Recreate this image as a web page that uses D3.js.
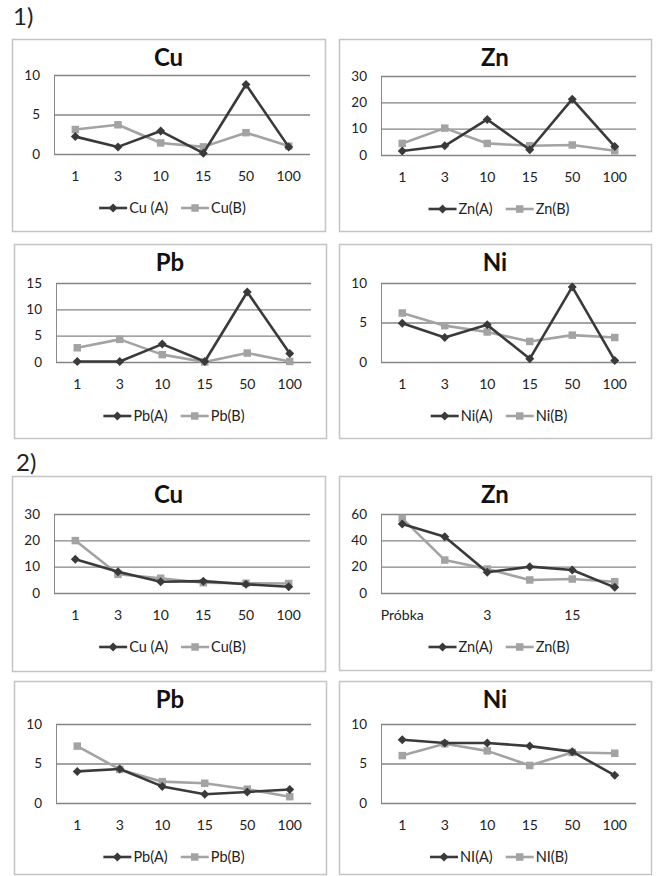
<!DOCTYPE html>
<html>
<head>
<meta charset="utf-8">
<script src="https://cdn.jsdelivr.net/npm/d3@7"></script>
<style>
  body { margin: 0; background: #fff; }
  svg { display: block; font-family: Lato, "Open Sans", sans-serif; }
</style>
</head>
<body>
<div id="chart"></div>
<script>
// sample categories (x axis)
var categories    = ["1", "3", "10", "15", "50", "100"];
var categoriesZn2 = ["Próbka", "1", "3", "10", "15", "50"];

// y tick labels
var ticks10 = [0, 5, 10];
var ticks15 = [0, 5, 10, 15];
var ticks30 = [0, 10, 20, 30];
var ticks60 = [0, 20, 40, 60];

// 1) values
var cu1A = [2.2, 0.9, 2.9, 0.1, 8.8, 0.9];
var cu1B = [3.1, 3.7, 1.4, 0.9, 2.7, 1.0];
var zn1A = [1.5, 3.5, 13.5, 2.0, 21.2, 3.2];
var zn1B = [4.4, 10.2, 4.4, 3.5, 3.8, 1.6];
var pb1A = [0.1, 0.1, 3.4, 0.1, 13.3, 1.6];
var pb1B = [2.7, 4.3, 1.4, 0.0, 1.7, 0.1];
var ni1A = [4.9, 3.1, 4.7, 0.4, 9.5, 0.2];
var ni1B = [6.2, 4.6, 3.8, 2.6, 3.4, 3.1];

// 2) values
var cu2A = [12.8, 8.1, 4.3, 4.5, 3.3, 2.4];
var cu2B = [19.9, 7.1, 5.6, 3.9, 3.7, 3.6];
var zn2A = [52.4, 42.8, 15.7, 20.0, 17.5, 4.3];
var zn2B = [56.7, 25.0, 18.2, 9.9, 10.6, 8.6];
var pb2A = [4.0, 4.3, 2.1, 1.1, 1.4, 1.7];
var pb2B = [7.2, 4.25, 2.7, 2.5, 1.75, 0.8];
var ni2A = [8.0, 7.6, 7.6, 7.2, 6.5, 3.5];
var ni2B = [6.0, 7.5, 6.6, 4.75, 6.4, 6.3];

var colA = "#3a3a3a", colB = "#a3a3a3";

// panels: box position + plot top offset
var panels = [
  { title: "Cu", cats: categories, a: cu1A, b: cu1B, ticks: ticks10, la: "Cu (A)", lb: "Cu(B)", x: 12,  y: 39,  w: 313, h: 192, pt: 36 },
  { title: "Zn", cats: categories, a: zn1A, b: zn1B, ticks: ticks30, la: "Zn(A)",  lb: "Zn(B)", x: 339, y: 39,  w: 312, h: 192, pt: 37 },
  { title: "Pb", cats: categories, a: pb1A, b: pb1B, ticks: ticks15, la: "Pb(A)",  lb: "Pb(B)", x: 14,  y: 244, w: 312, h: 194, pt: 39 },
  { title: "Ni", cats: categories, a: ni1A, b: ni1B, ticks: ticks10, la: "Ni(A)",  lb: "Ni(B)", x: 339, y: 244, w: 312, h: 194, pt: 39 },
  { title: "Cu", cats: categories, a: cu2A, b: cu2B, ticks: ticks30, la: "Cu (A)", lb: "Cu(B)", x: 12,  y: 476, w: 313, h: 195, pt: 38 },
  { title: "Zn", cats: categoriesZn2, a: zn2A, b: zn2B, ticks: ticks60, la: "Zn(A)", lb: "Zn(B)", x: 339, y: 476, w: 312, h: 194, pt: 38, skip: 2 },
  { title: "Pb", cats: categories, a: pb2A, b: pb2B, ticks: ticks10, la: "Pb(A)",  lb: "Pb(B)", x: 14,  y: 681, w: 312, h: 193, pt: 43 },
  { title: "Ni", cats: categories, a: ni2A, b: ni2B, ticks: ticks10, la: "NI(A)",  lb: "NI(B)", x: 339, y: 681, w: 312, h: 193, pt: 43 }
];

var svg = d3.select("#chart").append("svg").attr("width", 657).attr("height", 876);

svg.append("text").attr("x", 13).attr("y", 25).attr("font-size", 24).attr("fill", "#222").text("1)");
svg.append("text").attr("x", 16).attr("y", 471).attr("font-size", 24).attr("fill", "#222").text("2)");

// square-ish diamond like excel's marker
var diamond = "M0,-4.5L4.5,0L0,4.5L-4.5,0Z";
var square  = d3.symbol().type(d3.symbolSquare).size(56);

panels.forEach(function (p) {
  var g = svg.append("g").attr("transform", "translate(" + p.x + "," + p.y + ")");

  g.append("rect").attr("x", 0.5).attr("y", 0.5).attr("width", p.w).attr("height", p.h)
    .attr("fill", "#fff").attr("stroke", "#c4c4c4").attr("stroke-width", 1.5);

  var left = 42, right = p.w - 15, top = p.pt, bottom = p.pt + 79;

  var x = d3.scaleBand().domain(p.cats).range([left, right]);
  var y = d3.scaleLinear().domain([0, d3.max(p.ticks)]).range([bottom, top]);

  // title
  g.append("text").attr("x", p.w / 2).attr("y", 27).attr("text-anchor", "middle")
    .attr("font-size", 24).attr("font-weight", "bold").attr("fill", "#111").text(p.title);

  // grid + y labels
  var yAxis = d3.axisLeft(y).tickValues(p.ticks).tickSize(-(right - left)).tickPadding(14);
  var ya = g.append("g").attr("transform", "translate(" + left + ",0)").call(yAxis);
  ya.select(".domain").attr("stroke", "#8a8a8a");
  ya.selectAll(".tick line").attr("stroke", "#858585").attr("stroke-width", 1.3);
  ya.selectAll(".tick text").attr("font-size", 13.5).attr("fill", "#222").attr("font-family", "Lato, sans-serif");

  // x labels
  var xAxis = d3.axisBottom(x).tickSize(0).tickPadding(17)
    .tickFormat(function (d, i) { return (p.skip && i % p.skip) ? "" : d; });
  var xa = g.append("g").attr("transform", "translate(0," + bottom + ")").call(xAxis);
  xa.select(".domain").remove();
  xa.selectAll(".tick text").attr("font-size", 14).attr("fill", "#222").attr("font-family", "Lato, sans-serif");

  // series
  var line = d3.line()
    .x(function (d, i) { return x(p.cats[i]) + x.bandwidth() / 2; })
    .y(function (d) { return y(d); });

  [[p.b, colB, square], [p.a, colA, diamond]].forEach(function (s) {
    g.append("path").datum(s[0]).attr("d", line).attr("fill", "none")
      .attr("stroke", s[1]).attr("stroke-width", 2.6).attr("stroke-linejoin", "round");
    g.selectAll(null).data(s[0]).enter().append("path")
      .attr("d", s[2])
      .attr("transform", function (d, i) {
        return "translate(" + (x(p.cats[i]) + x.bandwidth() / 2) + "," + y(d) + ")";
      })
      .attr("fill", s[1]);
  });

  // legend
  var ly = bottom + 54;
  var lg = g.append("g");
  var items = [[p.la, colA, diamond], [p.lb, colB, square]];
  var off = 0;
  items.forEach(function (it) {
    var ig = lg.append("g").attr("transform", "translate(" + off + ",0)");
    ig.append("line").attr("x1", 0).attr("x2", 28).attr("y1", 0).attr("y2", 0)
      .attr("stroke", it[1]).attr("stroke-width", 2.6);
    ig.append("path").attr("d", it[2]).attr("transform", "translate(14,0)").attr("fill", it[1]);
    var t = ig.append("text").attr("x", 30).attr("y", 5).attr("font-size", 14.5).attr("fill", "#222").text(it[0]);
    off += 30 + t.node().getComputedTextLength() + 13;
  });
  // centre legend in the panel
  var lw = off - 13;
  lg.attr("transform", "translate(" + ((p.w - lw) / 2 + 4) + "," + ly + ")");
});
</script>
</body>
</html>
